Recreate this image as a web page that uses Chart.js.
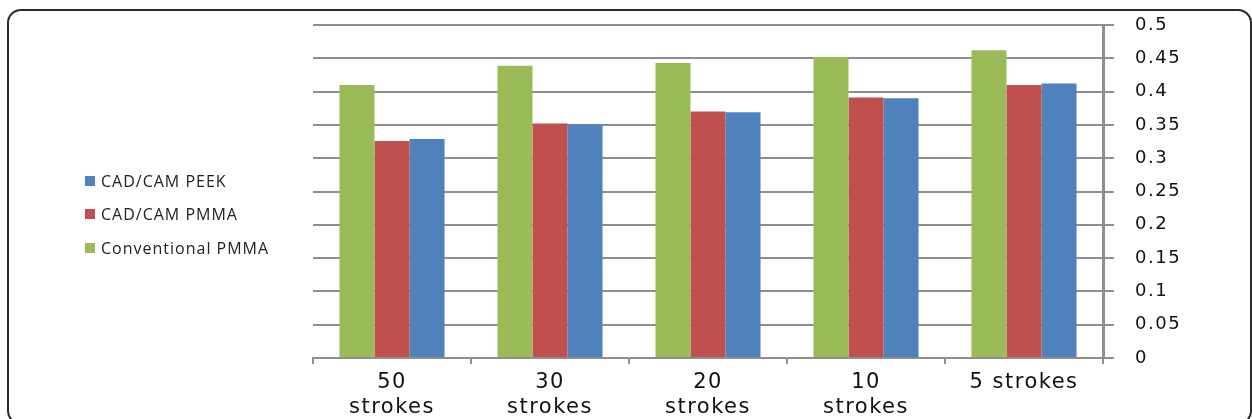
<!DOCTYPE html>
<html>
<head>
<meta charset="utf-8">
<script src="https://cdn.jsdelivr.net/npm/chart.js@4/dist/chart.umd.min.js"></script>
<style>
  body { margin: 0; background: #fff; overflow: hidden; }
  #wrap { position: relative; width: 1252px; height: 419px; }
  #frame {
    position: absolute; left: 7px; top: 9px; width: 1241px; height: 412px;
    border: 2px solid #2b2b2b; border-radius: 14px;
  }
  #legend {
    position: absolute; left: 85px; top: 170px;
    font-family: "Open Sans", sans-serif; font-size: 16px; letter-spacing: 1px; color: #222;
  }
  .item { height: 33.5px; display: flex; align-items: center; }
  .box { width: 10px; height: 10px; margin-right: 6px; margin-top: -12px; }
  .item span { margin-top: -12px; }
  canvas { position: absolute; left: 0; top: 0; }
</style>
</head>
<body>
<div id="wrap">
  <div id="frame"></div>
  <canvas id="chart" width="1252" height="419"></canvas>
  <div id="legend"></div>
</div>
<script>
// data
const categories = [["50", "strokes"], ["30", "strokes"], ["20", "strokes"], ["10", "strokes"], "5 strokes"];
const seriesNames = ["Conventional PMMA", "CAD/CAM PMMA", "CAD/CAM PEEK"];
const conventionalPMMA = [0.41, 0.439, 0.443, 0.452, 0.462];
const cadcamPMMA = [0.326, 0.352, 0.370, 0.391, 0.410];
const cadcamPEEK = [0.329, 0.351, 0.369, 0.390, 0.412];
const colors = ["#9bbb59", "#c0504d", "#4f81bd"];

const values = [conventionalPMMA, cadcamPMMA, cadcamPEEK];

// legend as html, top entry is the last series
const legend = document.getElementById('legend');
for (let i = seriesNames.length - 1; i >= 0; i--) {
    const row = document.createElement('div');
    row.className = 'item';
    row.innerHTML = '<div class="box" style="background:' + colors[i] + '"></div><span>' + seriesNames[i] + '</span>';
    legend.appendChild(row);
}

// wider glyphs like the original
const spacing = {
    id: 'spacing',
    beforeDraw: (chart) => { chart.ctx.letterSpacing = '1.5px'; },
    afterDraw: (chart) => { chart.ctx.letterSpacing = '0px'; }
};

const ctx = document.getElementById('chart').getContext('2d');
new Chart(ctx, {
    type: 'bar',
    data: {
        labels: categories,
        datasets: seriesNames.map((name, i) => ({
            label: name,
            data: values[i],
            backgroundColor: colors[i],
            borderWidth: 0,
            categoryPercentage: 0.665,
            barPercentage: 1.0
        }))
    },
    options: {
        responsive: false,
        animation: false,
        layout: { padding: { left: 313, top: 25, right: 0, bottom: 0 } },
        plugins: {
            legend: { display: false },
            tooltip: { enabled: false }
        },
        scales: {
            x: {
                afterFit: (scale) => { scale.height = 61; },
                grid: { drawOnChartArea: false, drawTicks: true, tickLength: 6, color: '#8e8e8e', lineWidth: 2 },
                border: { color: '#8e8e8e', width: 2 },
                ticks: {
                    color: '#111',
                    padding: 6,
                    maxRotation: 0,
                    font: { family: 'DejaVu Sans', size: 21, lineHeight: 1.2 }
                }
            },
            y: {
                position: 'right',
                min: 0,
                max: 0.5,
                afterFit: (scale) => {
                    scale.width = 149;
                    // tick padding is horizontal only here
                    scale.paddingTop = 11;
                    scale.paddingBottom = 11;
                },
                grid: { color: '#8e8e8e', lineWidth: 2, tickLength: 11 },
                border: { color: '#8e8e8e', width: 3 },
                ticks: {
                    stepSize: 0.05,
                    color: '#111',
                    padding: 21,
                    font: { family: 'DejaVu Sans', size: 18 },
                    callback: (v) => String(Math.round(v * 100) / 100)
                }
            }
        }
    },
    plugins: [spacing]
});
</script>
</body>
</html>
